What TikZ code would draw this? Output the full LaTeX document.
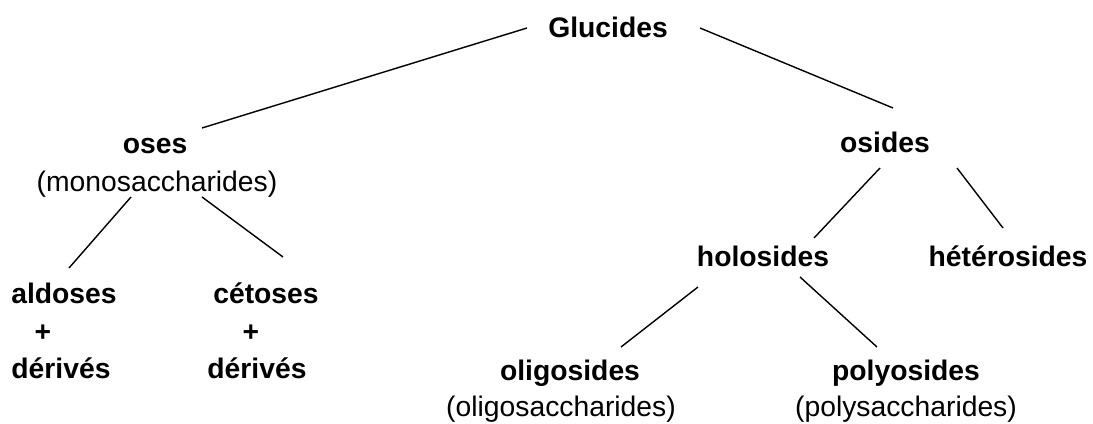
\documentclass[tikz,border=0pt]{standalone}
\usepackage{fontspec}
\setmainfont{Liberation Sans}
\usetikzlibrary{calc}
\begin{document}
\begin{tikzpicture}[x=0.02cm,y=-0.02cm,
  lbl/.style={inner sep=0pt,anchor=base,font=\fontsize{16.1}{19}\selectfont\bfseries},
  sub/.style={inner sep=0pt,anchor=base,font=\fontsize{16.1}{19}\selectfont},
  link/.style={line width=0.8pt,black}]
\useasboundingbox (0,0) rectangle (1093,423);
% nodes
\node[lbl] (G) at (608,37) {Glucides};
\node[lbl] (oses) at (155,153) {oses};
\node[sub] (mono) at (157,191) {(monosaccharides)};
\node[lbl] (ald) at (64,303) {aldoses};
\node[lbl] (plusA) at (43,341) {+};
\node[lbl] (derA) at (61,378) {dérivés};
\node[lbl] (cet) at (266,303) {cétoses};
\node[lbl] (plusB) at (251,341) {+};
\node[lbl] (derB) at (257,378) {dérivés};
\node[lbl] (osides) at (885,152) {osides};
\node[lbl] (holo) at (763,266) {holosides};
\node[lbl] (hetero) at (1008,266) {hétérosides};
\node[lbl] (oligo) at (570,380) {oligosides};
\node[sub] (oligosac) at (561,416) {(oligosaccharides)};
\node[lbl] (poly) at (906,380) {polyosides};
\node[sub] (polysac) at (906,416) {(polysaccharides)};
% connectors
\draw[link] ($(G.base)+(-81,-9)$) -- ($(oses.base)+(47,-25)$);
\draw[link] ($(G.base)+(92,-9)$) -- ($(osides.base)+(8,-44)$);
\draw[link] ($(mono.base)+(-26,6)$) -- ($(ald.base)+(5,-35)$);
\draw[link] ($(mono.base)+(45,6)$) -- ($(cet.base)+(17,-46)$);
\draw[link] ($(osides.base)+(-5,16)$) -- ($(holo.base)+(51,-28)$);
\draw[link] ($(osides.base)+(72,16)$) -- ($(hetero.base)+(-5,-38)$);
\draw[link] ($(holo.base)+(-65,21)$) -- ($(oligo.base)+(51,-33)$);
\draw[link] ($(holo.base)+(37,11)$) -- ($(poly.base)+(-29,-33)$);
\end{tikzpicture}
\end{document}
